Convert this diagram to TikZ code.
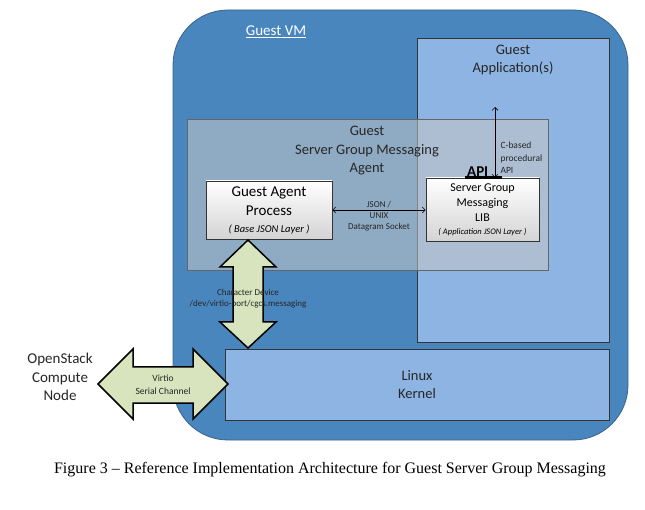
\documentclass[tikz,border=0pt]{standalone}
\usepackage{fontspec}
\setmainfont{Carlito}
\newfontfamily\capfont[Ligatures=TeX]{Liberation Serif}
\usetikzlibrary{positioning,calc,arrows.meta}

\definecolor{vmblue}{RGB}{74,134,190}
\definecolor{vmedge}{RGB}{56,98,140}
\definecolor{lightblue}{RGB}{141,180,226}
\definecolor{arrowgreen}{RGB}{215,228,189}
\definecolor{agentgray}{RGB}{200,200,200}

\tikzset{
	bigtext/.style={font=\fontsize{14.5}{18.5}\selectfont, align=center, text=black!85},
	smalltext/.style={font=\fontsize{9}{11}\selectfont, align=center, text=black!85},
	vmbox/.style={draw=vmedge, fill=vmblue, rounded corners=55pt, line width=0.8pt},
	bluebox/.style={draw=black!80, fill=lightblue, line width=0.6pt, inner sep=0pt},
	agentbox/.style={draw=black!60, fill=agentgray, fill opacity=0.55, line width=0.6pt},
	whitebox/.style={draw=black!80, top color=white, bottom color=black!17, line width=0.6pt, inner sep=0pt, align=center},
	blockarrow/.style={draw=black, fill=arrowgreen, line width=1.5pt, line join=miter},
	thinarrow/.style={{Straight Barb[length=3pt,width=6pt]}-{Straight Barb[length=3pt,width=6pt]}, line width=0.6pt},
}

\begin{document}
\begin{tikzpicture}[x=1pt, y=-1pt]
	\useasboundingbox (0,0) rectangle (645,510);

	% guest vm and its layers
	\node[vmbox, minimum width=455pt, minimum height=430pt] (vm) at (400.5,225) {};
	\node[font=\fontsize{15}{18}\selectfont, text=white] (vmtitle) at (276,32) {\underline{Guest VM}};

	\node[bluebox, minimum width=192pt, minimum height=304pt] (app) at (513,190) {};
	\node[bigtext] (apptitle) at (513,60) {Guest\\Application(s)};

	\node[agentbox, minimum width=361pt, minimum height=151pt] (agent) at (367.5,194.5) {};
	\node[bigtext] (agenttitle) at (367,151) {Guest\\Server Group Messaging\\Agent};

	\node[whitebox, minimum width=126pt, minimum height=58pt, font=\fontsize{15}{19}\selectfont] (proc) at (269,210)
		{Guest Agent\\Process\\[-2pt]{\fontsize{10.5}{12}\itshape ( Base JSON Layer )}};
	\node[whitebox, minimum width=113pt, minimum height=63pt, font=\fontsize{12}{15}\selectfont] (lib) at (482.5,209.5)
		{Server Group\\Messaging\\LIB\\[-2pt]{\fontsize{8.5}{10}\itshape ( Application JSON Layer )}};

	\node[bluebox, minimum width=384pt, minimum height=71pt, bigtext] (kernel) at (417,384.5) {Linux\\Kernel};

	% api and socket connectors
	\node[font=\bfseries\fontsize{15}{18}\selectfont, anchor=south, inner sep=0pt] (api) at ($(lib.north west)+(52,-1)$) {API};
	\draw[line width=2.5pt] ($(lib.north west)+(39,0)$) -- ($(lib.north west)+(76,0)$);
	\coordinate (apptop) at (495,107);
	\draw[thinarrow] (apptop) -- (apptop |- lib.north);
	\node[smalltext, font=\fontsize{9.5}{12.5}\selectfont, align=left, anchor=west] (apilabel) at (497,158) {C-based\\procedural\\API};

	\draw[thinarrow] (proc.east) -- (proc.east -| lib.west)
		node[midway, above, smalltext, inner sep=2pt] {JSON /}
		node[midway, below, smalltext, inner sep=2pt] {UNIX\\Datagram Socket};

	% block arrows
	\draw[blockarrow] (248,240) -- (276,267) -- (263,267) -- (263,322) -- (276,322) -- (248,348)
		-- (220,322) -- (233,322) -- (233,267) -- (220,267) -- cycle;
	\node[smalltext] (chardev) at (248,299) {Character Device\\/dev/virtio-port/cgcs.messaging};

	\draw[blockarrow] (98,384) -- (133,349) -- (133,367) -- (193,367) -- (193,349) -- (228,384)
		-- (193,419) -- (193,403) -- (133,403) -- (133,419) -- cycle;
	\node[smalltext, font=\fontsize{9.5}{13}\selectfont] (virtio) at (163,385) {Virtio\\Serial Channel};

	\node[bigtext, font=\fontsize{15}{18.5}\selectfont] (compute) at (60,377) {OpenStack\\Compute\\Node};

	% caption
	\node[font=\capfont\fontsize{16}{19}\selectfont] (caption) at (330,470)
		{Figure 3 – Reference Implementation Architecture for Guest Server Group Messaging};
\end{tikzpicture}
\end{document}
